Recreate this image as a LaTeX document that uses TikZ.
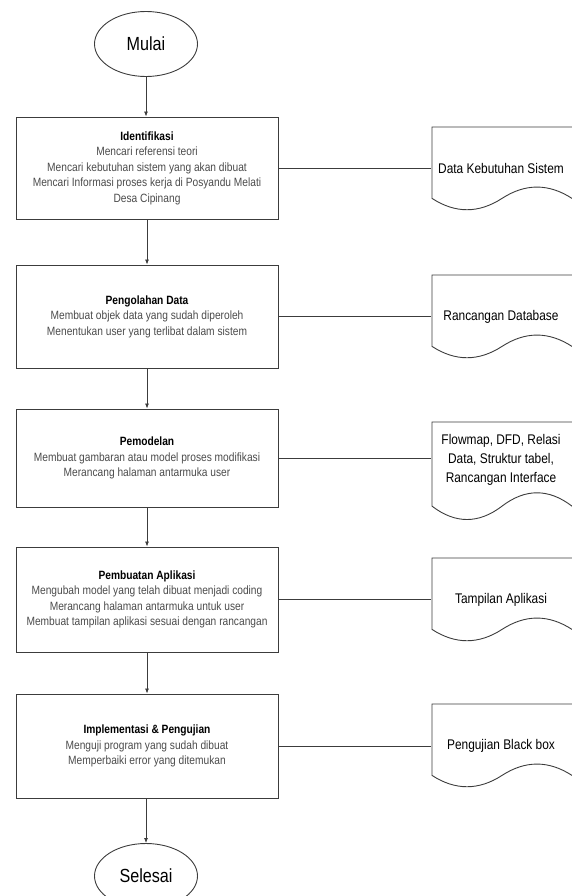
\documentclass[tikz,border=0pt]{standalone}
\usepackage{fontspec}
\setmainfont{Liberation Sans}[FakeStretch=0.85]
\usepackage{tikz}
\usetikzlibrary{arrows.meta, shapes.geometric}
\definecolor{lineColor}{RGB}{60, 60, 60}
\definecolor{bodyText}{RGB}{75, 75, 75}

% document symbol: top, height (wavy bottom, right side runs off the page)
\newcommand{\docOutline}[2]{%
  \draw[docLine] (590, #1) -- (432, #1) -- (432, {#1+0.85*#2})
    .. controls ({432+140/6}, {#1+1.03*#2}) and ({432+140/3}, {#1+1.03*#2}) .. (502, {#1+0.85*#2})
    .. controls ({432+280/3}, {#1+0.67*#2}) and ({432+700/6}, {#1+0.67*#2}) .. (572, {#1+0.85*#2})
    -- ++(12, 8);
}

\begin{document}
\begin{tikzpicture}[x=1pt, y=-1pt, font=\fontsize{12}{15.5}\selectfont,
    terminal/.style={ellipse, draw=lineColor, line width=0.9pt, minimum width=103pt, minimum height=65pt, font=\fontsize{19}{22}\selectfont},
    procBox/.style={rectangle, draw=lineColor, line width=0.9pt, minimum width=262pt, align=center, text=bodyText},
    docText/.style={minimum width=140pt, align=center, font=\fontsize{14}{19}\selectfont},
    docLine/.style={draw=lineColor, line width=0.9pt},
    flow/.style={draw=lineColor, line width=0.8pt, -{Latex[length=5pt, width=4pt]}},
    link/.style={draw=lineColor, line width=0.8pt}]
  \useasboundingbox (0,0) rectangle (571,896);

  % Start and end
  \node[terminal] (mulai) at (146, 44) {Mulai};
  \node[terminal] (selesai) at (146, 876) {Selesai};

  % Process steps
  \node[procBox, minimum height=102pt] (identifikasi) at (147, 168)
    {{\color{black}\bfseries Identifikasi}\\Mencari referensi teori\\Mencari kebutuhan sistem yang akan dibuat\\Mencari Informasi proses kerja di Posyandu Melati\\Desa Cipinang};
  \node[procBox, minimum height=103pt] (pengolahan) at (147, 316.5)
    {{\color{black}\bfseries Pengolahan Data}\\Membuat objek data yang sudah diperoleh\\Menentukan user yang terlibat dalam sistem};
  \node[procBox, minimum height=98pt] (pemodelan) at (147, 458)
    {{\color{black}\bfseries Pemodelan}\\Membuat gambaran atau model proses modifikasi\\Merancang halaman antarmuka user};
  \node[procBox, minimum height=105pt] (pembuatan) at (147, 599.5)
    {{\color{black}\bfseries Pembuatan Aplikasi}\\Mengubah model yang telah dibuat menjadi coding\\Merancang halaman antarmuka untuk user\\Membuat tampilan aplikasi sesuai dengan rancangan};
  \node[procBox, minimum height=104pt] (implementasi) at (147, 746)
    {{\color{black}\bfseries Implementasi \& Pengujian}\\Menguji program yang sudah dibuat\\Memperbaiki error yang ditemukan};

  % Outputs
  \docOutline{127}{84}
  \node[docText] (docKebutuhan) at (501, 168) {Data Kebutuhan Sistem};
  \docOutline{275}{84}
  \node[docText] (docDatabase) at (501, 316.5) {Rancangan Database};
  \docOutline{422}{99}
  \node[docText] (docModel) at (501, 460) {Flowmap, DFD, Relasi\\Data, Struktur tabel,\\Rancangan Interface};
  \docOutline{558}{84}
  \node[docText] (docTampilan) at (501, 599.5) {Tampilan Aplikasi};
  \docOutline{704}{84}
  \node[docText] (docPengujian) at (501, 746) {Pengujian Black box};

  % Flow
  \draw[flow] (mulai) -- (mulai |- identifikasi.north);
  \draw[flow] (identifikasi) -- (pengolahan);
  \draw[flow] (pengolahan) -- (pemodelan);
  \draw[flow] (pemodelan) -- (pembuatan);
  \draw[flow] (pembuatan) -- (implementasi);
  \draw[flow] (implementasi.south -| selesai) -- (selesai);

  % Links to outputs
  \draw[link] (identifikasi) -- (identifikasi -| docKebutuhan.west);
  \draw[link] (pengolahan) -- (pengolahan -| docDatabase.west);
  \draw[link] (pemodelan) -- (pemodelan -| docModel.west);
  \draw[link] (pembuatan) -- (pembuatan -| docTampilan.west);
  \draw[link] (implementasi) -- (implementasi -| docPengujian.west);
\end{tikzpicture}
\end{document}
